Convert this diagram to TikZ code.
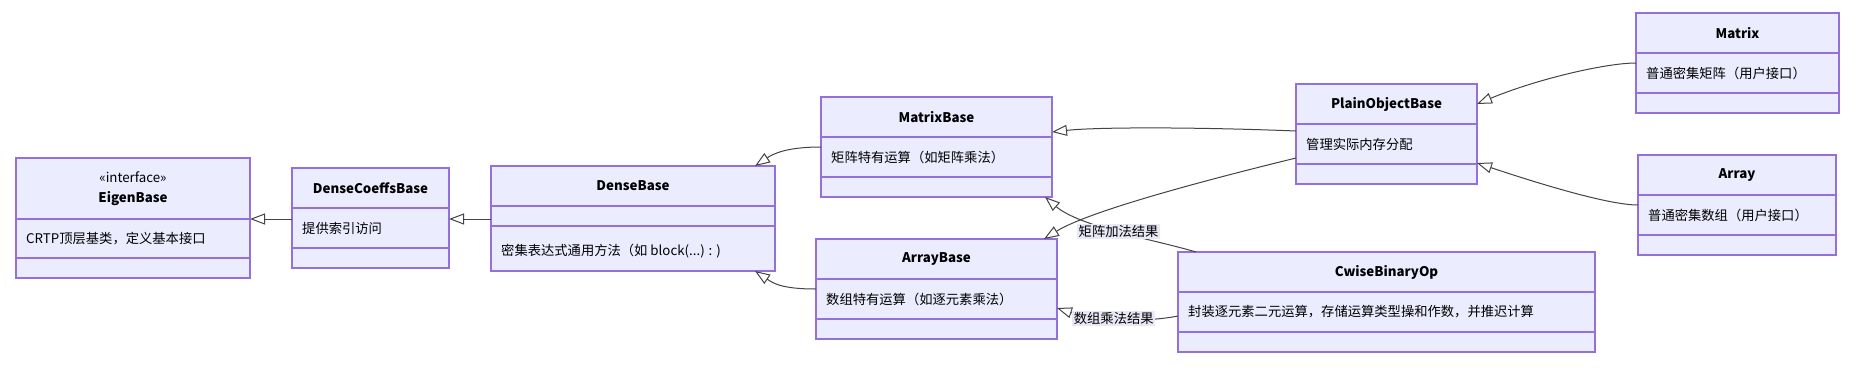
\documentclass[tikz,border=0pt]{standalone}
\usepackage{fontspec}
\setmainfont{Noto Sans CJK SC}
\usetikzlibrary{positioning,arrows.meta}
\definecolor{ClassFill}{HTML}{ECECFF}
\definecolor{ClassLine}{HTML}{9370DB}
\definecolor{EdgeLine}{HTML}{444444}
\definecolor{LabelFill}{HTML}{E8E8F6}
\tikzset{
  uml/.style={draw=ClassLine, fill=ClassFill, line width=1.2pt, outer sep=0pt, inner sep=0pt},
  head/.style={uml, minimum height=40pt, align=center, font=\fontsize{13.3pt}{20pt}\selectfont\bfseries},
  compart/.style={uml, minimum height=#1},
  member/.style={inner sep=0pt, font=\fontsize{13.3pt}{16pt}\selectfont},
  inherit/.style={draw=EdgeLine, line width=1pt, -{Triangle[length=15pt, width=11pt, fill=white]}},
  edgelabel/.style={fill=LabelFill, inner sep=1.5pt, font=\fontsize{13.3pt}{16pt}\selectfont}
}
\begin{document}
\begin{tikzpicture}[x=1pt, y=-1pt, node distance=0pt]
\useasboundingbox (0,0) rectangle (1864,381);
\fill[white] (0,0) rectangle (1864,381);

% classes
\node[head, minimum width=234pt, minimum height=61pt, anchor=north west] (eigenH) at (16,158) {{\mdseries «interface»}\\EigenBase};
\node[compart=39pt, minimum width=234pt, below=of eigenH] (eigenA) {};
\node[compart=20pt, minimum width=234pt, below=of eigenA] (eigenM) {};
\node[member, right=10pt of eigenA.west] (eigenT) {CRTP顶层基类，定义基本接口};

\node[head, minimum width=157pt, anchor=north west] (dcbH) at (292,168) {DenseCoeffsBase};
\node[compart=40pt, minimum width=157pt, below=of dcbH] (dcbA) {};
\node[compart=20pt, minimum width=157pt, below=of dcbA] (dcbM) {};
\node[member, right=10pt of dcbA.west] (dcbT) {提供索引访问};

\node[head, minimum width=284pt, anchor=north west] (dbH) at (491,166) {DenseBase};
\node[compart=20pt, minimum width=284pt, below=of dbH] (dbA) {};
\node[compart=45pt, minimum width=284pt, below=of dbA] (dbM) {};
\node[member, right=10pt of dbM.west, yshift=-3pt] (dbT) {密集表达式通用方法（如 block(...) : )};

\node[head, minimum width=231pt, anchor=north west] (mbH) at (821,97) {MatrixBase};
\node[compart=40pt, minimum width=231pt, below=of mbH] (mbA) {};
\node[compart=20pt, minimum width=231pt, below=of mbA] (mbM) {};
\node[member, right=10pt of mbA.west] (mbT) {矩阵特有运算（如矩阵乘法）};

\node[head, minimum width=241pt, anchor=north west] (abH) at (816,239) {ArrayBase};
\node[compart=40pt, minimum width=241pt, below=of abH] (abA) {};
\node[compart=20pt, minimum width=241pt, below=of abA] (abM) {};
\node[member, right=10pt of abA.west] (abT) {数组特有运算（如逐元素乘法）};

\node[head, minimum width=181pt, anchor=north west] (pobH) at (1296,84) {PlainObjectBase};
\node[compart=40pt, minimum width=181pt, below=of pobH] (pobA) {};
\node[compart=20pt, minimum width=181pt, below=of pobA] (pobM) {};
\node[member, right=10pt of pobA.west] (pobT) {管理实际内存分配};

\node[head, minimum width=203pt, anchor=north west] (matH) at (1636,13) {Matrix};
\node[compart=40pt, minimum width=203pt, below=of matH] (matA) {};
\node[compart=20pt, minimum width=203pt, below=of matA] (matM) {};
\node[member, right=10pt of matA.west] (matT) {普通密集矩阵（用户接口）};

\node[head, minimum width=198pt, anchor=north west] (arrH) at (1638,155) {Array};
\node[compart=40pt, minimum width=198pt, below=of arrH] (arrA) {};
\node[compart=20pt, minimum width=198pt, below=of arrA] (arrM) {};
\node[member, right=10pt of arrA.west] (arrT) {普通密集数组（用户接口）};

\node[head, minimum width=417pt, anchor=north west] (cwH) at (1178,252) {CwiseBinaryOp};
\node[compart=40pt, minimum width=417pt, below=of cwH] (cwA) {};
\node[compart=20pt, minimum width=417pt, below=of cwA] (cwM) {};
\node[member, right=10pt of cwA.west] (cwT) {封装逐元素二元运算，存储运算类型操和作数，并推迟计算};

% inheritance
\draw[inherit] (eigenH.south east -| dcbH.west) -- (eigenH.south east);
\draw[inherit] (eigenH.south east -| dbH.west) -- (eigenH.south east -| dcbH.east);
\draw[inherit] ([yshift=-10pt]mbA.north west) .. controls +(-35,0) and +(18,-12) .. ([xshift=-20pt]dbH.north east);
\draw[inherit] ([yshift=-10pt]abA.north west) .. controls +(-35,0) and +(18,12) .. ([xshift=-20pt]dbM.south east);
\draw[inherit] ([yshift=-7pt]pobA.north west) .. controls +(-100,-4) and +(45,-5) .. ([yshift=5pt]mbH.south east);
\draw[inherit] ([yshift=6pt]pobA.south west) .. controls +(-90,22) and +(45,-28) .. ([xshift=-13pt]abH.north east);
\draw[inherit] ([yshift=-10pt]matA.north west) .. controls +(-30,0) and +(60,-25) .. (pobH.east);
\draw[inherit] ([yshift=-10pt]arrA.north west) .. controls +(-30,0) and +(60,20) .. ([yshift=1pt]pobA.south east);
\draw[inherit] ([xshift=18pt]cwH.north west) .. controls +(-40,-12) and +(35,30) .. node[edgelabel, pos=0.5] {矩阵加法结果} ([xshift=-7pt]mbM.south east);
\draw[inherit] ([yshift=-4pt]cwA.west) .. controls +(-40,8) and +(30,10) .. node[edgelabel, pos=0.5] {数组乘法结果} ([yshift=-9pt]abA.east);
\end{tikzpicture}
\end{document}
